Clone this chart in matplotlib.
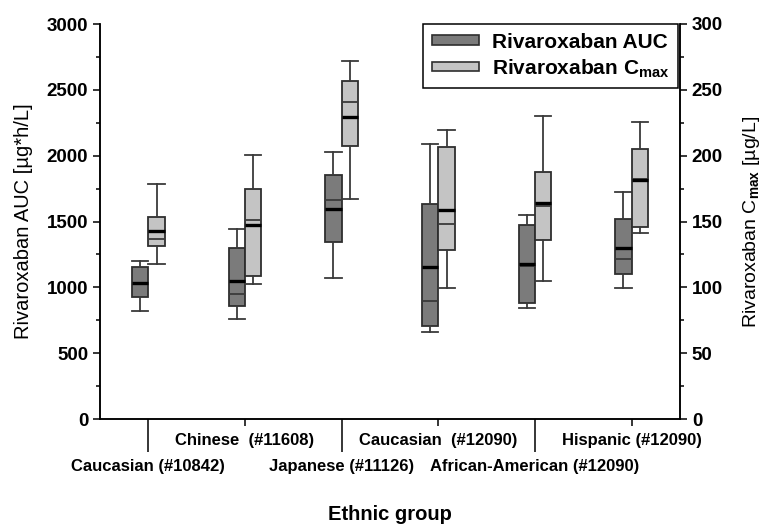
import matplotlib
matplotlib.use('Agg')
import matplotlib.pyplot as plt
from matplotlib.patches import Patch
from matplotlib.ticker import MultipleLocator

plt.rcParams['font.family'] = ['Liberation Sans', 'DejaVu Sans']
plt.rcParams['font.weight'] = 'bold'
plt.rcParams['mathtext.fontset'] = 'custom'
plt.rcParams['mathtext.rm'] = 'Liberation Sans'
plt.rcParams['mathtext.bf'] = 'Liberation Sans:bold'

groups = ["Caucasian (#10842)", "Chinese  (#11608)", "Japanese (#11126)",
          "Caucasian  (#12090)", "African-American (#12090)", "Hispanic (#12090)"]

# AUC [µg*h/L]
auc_q1 = [924, 861, 1342, 704, 881, 1104]
auc_q3 = [1157, 1296, 1855, 1635, 1471, 1517]
auc_median = [1031, 949, 1663, 896, 1164, 1217]
auc_mean = [1031, 1050, 1597, 1154, 1180, 1301]
auc_lo = [818, 757, 1073, 663, 845, 993]
auc_hi = [1202, 1441, 2028, 2091, 1549, 1726]

# Cmax [µg/L]
cmax_q1 = [131.4, 108.8, 207.3, 128.1, 136.0, 146.1]
cmax_q3 = [153.2, 174.9, 256.9, 206.4, 187.3, 204.8]
cmax_median = [136.9, 150.9, 240.8, 148.1, 161.4, 182.6]
cmax_mean = [142.8, 147.6, 229.6, 158.4, 164.4, 181.4]
cmax_lo = [117.7, 102.8, 167.3, 99.3, 104.5, 141.3]
cmax_hi = [178.7, 200.5, 271.9, 219.5, 230.4, 225.6]

DARK = '#7b7b7b'
LIGHT = '#c4c4c4'
EDGE = '#2e2e2e'
W = 0.17


def make_stats(q1, q3, med, mean, lo, hi):
    return [dict(q1=a, q3=b, med=c, mean=d, whislo=e, whishi=f, fliers=[])
            for a, b, c, d, e, f in zip(q1, q3, med, mean, lo, hi)]


def draw_boxes(ax, stats, positions, color):
    ax.bxp(stats, positions=positions, widths=W, capwidths=W,
           showmeans=True, meanline=True, showfliers=False,
           patch_artist=True, manage_ticks=False,
           boxprops=dict(facecolor=color, edgecolor=EDGE, linewidth=1.3),
           medianprops=dict(color='#3a3a3a', linewidth=1.3),
           meanprops=dict(color='black', linestyle='-', linewidth=2.4),
           whiskerprops=dict(color='#3a3a3a', linewidth=1.3),
           capprops=dict(color='#3a3a3a', linewidth=1.3))


fig = plt.figure(figsize=(7.64, 5.25), dpi=100)
ax = fig.add_axes([100 / 764, 106 / 525, 580 / 764, 395 / 525])
ax2 = ax.twinx()

pos = list(range(1, len(groups) + 1))
draw_boxes(ax, make_stats(auc_q1, auc_q3, auc_median, auc_mean, auc_lo, auc_hi),
           [p - W / 2 for p in pos], DARK)
draw_boxes(ax2, make_stats(cmax_q1, cmax_q3, cmax_median, cmax_mean, cmax_lo, cmax_hi),
           [p + W / 2 for p in pos], LIGHT)

ax.set_xlim(0.5, 6.5)
ax.set_ylim(0, 3000)
ax2.set_ylim(0, 300)

for a in (ax, ax2):
    a.spines['top'].set_visible(False)
    for s in a.spines.values():
        s.set_linewidth(1.1)

# staggered group labels: odd groups on a lower row with long ticks
ax.set_xticks(pos[0::2], labels=groups[0::2])
ax.set_xticks(pos[1::2], labels=groups[1::2], minor=True)
ax.tick_params(axis='x', which='major', length=24, pad=5, labelsize=12, width=1.1)
ax.tick_params(axis='x', which='minor', length=5, pad=5, labelsize=12, width=1.1)

ax.yaxis.set_major_locator(MultipleLocator(500))
ax.yaxis.set_minor_locator(MultipleLocator(250))
ax2.yaxis.set_major_locator(MultipleLocator(50))
ax2.yaxis.set_minor_locator(MultipleLocator(25))
for a in (ax, ax2):
    a.tick_params(axis='y', which='major', length=5, width=1.1, labelsize=13.5)
    a.tick_params(axis='y', which='minor', length=3, width=1.1)

ax.set_ylabel("Rivaroxaban AUC [µg*h/L]", fontsize=14.5, fontweight='normal')
ax.yaxis.set_label_coords(-0.115, 0.5)
ax2.set_ylabel(r"Rivaroxaban C$_{\mathrm{max}}$ [µg/L]", fontsize=14, fontweight='normal')
ax2.yaxis.set_label_coords(1.105, 0.5)
ax.set_xlabel("Ethnic group", fontsize=14.5, fontweight='bold')
ax.xaxis.set_label_coords(0.5, -0.218)

handles = [Patch(facecolor=DARK, edgecolor=EDGE, linewidth=1.2),
           Patch(facecolor=LIGHT, edgecolor=EDGE, linewidth=1.2)]
leg = ax2.legend(handles, ["Rivaroxaban AUC", r"Rivaroxaban C$_{\mathbf{max}}$"],
                 loc='upper right', bbox_to_anchor=(0.997, 1.0), borderaxespad=0,
                 fontsize=15, handlelength=2.3, handleheight=0.35, handletextpad=0.6,
                 labelspacing=0.25, borderpad=0.42, fancybox=False, framealpha=1)
leg.get_frame().set_edgecolor('black')
leg.get_frame().set_linewidth(1.1)

plt.savefig('out.png', dpi=100)
